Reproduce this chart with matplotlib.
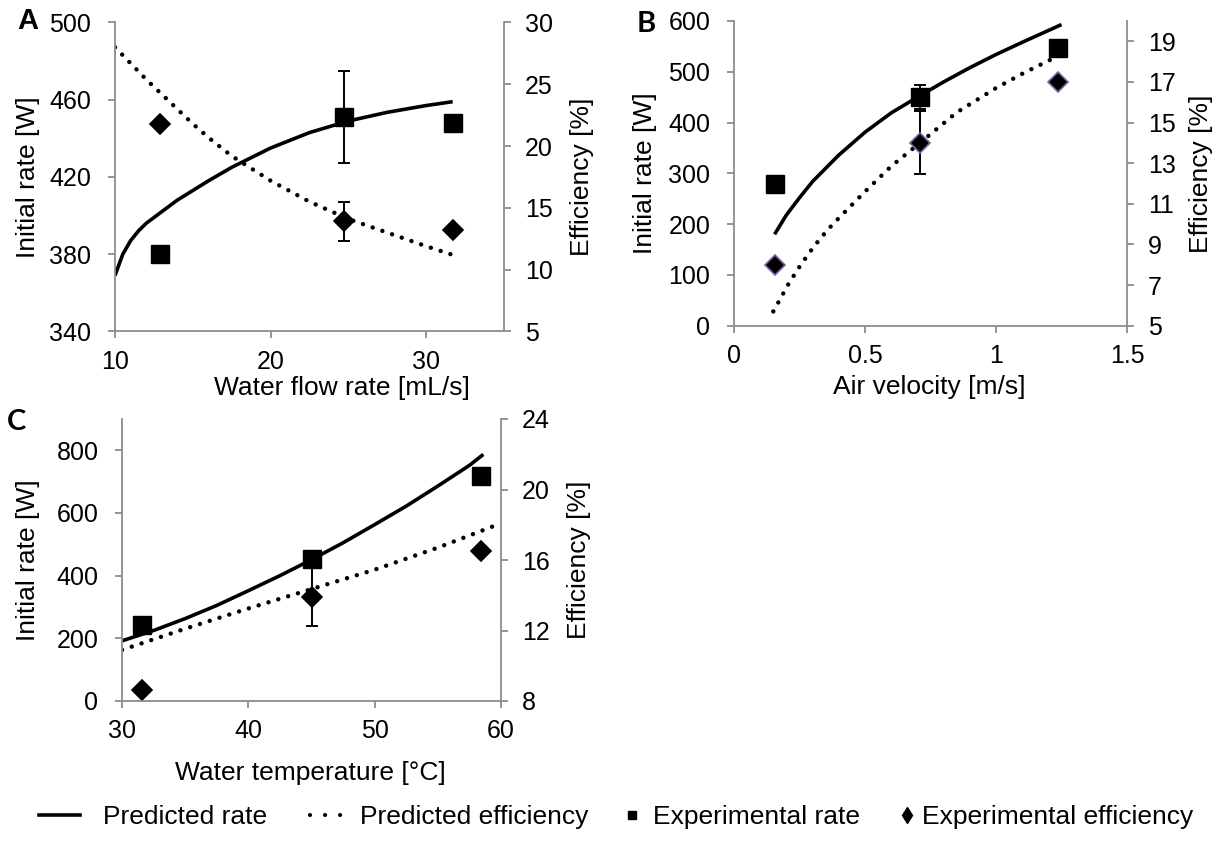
import matplotlib
matplotlib.use("Agg")
import matplotlib.pyplot as plt
from matplotlib.lines import Line2D

plt.rcParams['font.family'] = ['Liberation Sans', 'DejaVu Sans']

# ---- Panel A: water flow rate ----
a_curve_x = [10, 10.5, 11, 11.5, 12, 13, 14, 15, 16, 17.5, 20, 22.5, 25, 27.5, 30, 31.7]
a_rate_pred = [369, 380, 387, 392, 396, 402, 408, 413, 418, 425, 435, 443, 449, 453.5, 457, 459]
a_eff_x = [10, 11, 12, 13, 14, 15, 16, 17.5, 20, 22.5, 25, 27.5, 30, 31.7]
a_eff_pred = [28, 26.7, 25.4, 24.2, 23, 21.8, 20.7, 19.2, 17.2, 15.5, 14.1, 13.0, 11.9, 11.2]
a_exp_x = [12.9, 24.7, 31.7]
a_rate_exp = [380, 451, 448]
a_rate_err = [0, 24, 0]
a_eff_exp = [21.8, 13.9, 13.2]
a_eff_err = [0, 1.55, 0]

# ---- Panel B: air velocity ----
b_curve_x = [0.155, 0.2, 0.25, 0.3, 0.4, 0.5, 0.6, 0.7, 0.8, 0.9, 1.0, 1.1, 1.25]
b_rate_pred = [180, 218, 252, 284, 336, 381, 419, 450, 480, 508, 534, 558, 593]
b_eff_x = [0.15, 0.21, 0.255, 0.305, 0.356, 0.4, 0.5, 0.6, 0.71, 0.85, 1.0, 1.1, 1.24]
b_eff_pred = [5.7, 7.1, 8.0, 8.9, 9.7, 10.3, 11.6, 12.85, 14.0, 15.5, 16.7, 17.4, 18.3]
b_exp_x = [0.155, 0.71, 1.238]
b_rate_exp = [280, 450, 546]
b_rate_err = [0, 24, 0]
b_eff_exp = [8.0, 14.0, 17.0]
b_eff_err = [0, 1.55, 0]

# ---- Panel C: water temperature ----
c_curve_x = [30, 32.5, 35, 37.5, 40, 42.5, 45, 47.5, 50, 52.5, 55, 57.5, 58.6]
c_rate_pred = [192, 225, 263, 305, 352, 400, 451, 505, 563, 622, 686, 752, 787]
c_eff_x = [30, 35, 40, 45, 50, 55, 59.7]
c_eff_pred = [10.9, 12.1, 13.25, 14.35, 15.45, 16.7, 18.0]
c_exp_x = [31.6, 45, 58.4]
c_rate_exp = [242, 452, 717]
c_rate_err = [0, 24, 0]
c_eff_exp = [8.6, 13.9, 16.5]
c_eff_err = [0, 1.67, 0]

legend_labels = ['Predicted rate', 'Predicted efficiency', 'Experimental rate', 'Experimental efficiency']

GRAY = '#8c8c8c'
FS = 18      # tick labels
LFS = 19     # axis titles / legend
DOT = (0, (0.01, 2.3))


def style(ax, ax2):
    for a in (ax, ax2):
        a.spines['top'].set_visible(False)
        for s in ('left', 'right', 'bottom'):
            a.spines[s].set_color(GRAY)
            a.spines[s].set_linewidth(1.3)
        a.tick_params(colors=GRAY, labelcolor='black', labelsize=FS,
                      width=1.3, length=5, direction='out')
    ax.spines['right'].set_visible(False)
    ax2.spines['left'].set_visible(False)
    ax2.spines['bottom'].set_visible(False)
    ax.tick_params(axis='y', pad=12)
    ax.tick_params(axis='x', pad=8)
    ax2.tick_params(axis='y', pad=10)


def panel(rect, cx, rate, ex, eff, px, prate, perr, peff, peerr,
          xlim, xticks, ylim, yticks, y2lim, y2ticks, xlabel, edge):
    ax = fig.add_axes(rect)
    ax2 = ax.twinx()
    ax.set_zorder(ax2.get_zorder() + 1)
    ax.patch.set_visible(False)
    ax2.plot(ex, eff, color='black', lw=3.2, linestyle=DOT,
             dash_capstyle='round', zorder=2)
    ax2.errorbar(px, peff, yerr=peerr, fmt='none', ecolor='black',
                 elinewidth=1.4, capsize=4, capthick=1.4, zorder=3)
    ax2.plot(px, peff, linestyle='none', marker='D', markersize=10.5,
             markerfacecolor='black', markeredgecolor=edge,
             markeredgewidth=1.2, zorder=4)
    ax.plot(cx, rate, color='black', lw=2.6, solid_capstyle='butt', zorder=2)
    ax.errorbar(px, prate, yerr=perr, fmt='none', ecolor='black',
                elinewidth=1.4, capsize=4, capthick=1.4, zorder=3)
    ax.plot(px, prate, linestyle='none', marker='s', markersize=13,
            color='black', zorder=4)
    ax.set_xlim(*xlim)
    ax.set_xticks(xticks)
    ax.set_ylim(*ylim)
    ax.set_yticks(yticks)
    ax2.set_ylim(*y2lim)
    ax2.set_yticks(y2ticks)
    ax.set_xlabel(xlabel, fontsize=LFS)
    ax.set_ylabel('Initial rate [W]', fontsize=LFS)
    ax2.set_ylabel('Efficiency [%]', fontsize=LFS)
    style(ax, ax2)
    return ax, ax2


fig = plt.figure(figsize=(12.23, 8.42), dpi=100)
W, H = 1223, 842


def rect(l, r, t, b):
    return [l / W, 1 - b / H, (r - l) / W, (b - t) / H]


axA, axA2 = panel(rect(115, 504, 22.5, 331.5), a_curve_x, a_rate_pred, a_eff_x, a_eff_pred,
                  a_exp_x, a_rate_exp, a_rate_err, a_eff_exp, a_eff_err,
                  (10, 35), [10, 20, 30], (340, 500), range(340, 501, 40),
                  (5, 30), range(5, 31, 5), 'Water flow rate [mL/s]', 'black')
axB, axB2 = panel(rect(734, 1127, 21, 325.7), b_curve_x, b_rate_pred, b_eff_x, b_eff_pred,
                  b_exp_x, b_rate_exp, b_rate_err, b_eff_exp, b_eff_err,
                  (0, 1.5), [0, 0.5, 1, 1.5], (0, 600), range(0, 601, 100),
                  (5, 20), range(5, 20, 2), 'Air velocity [m/s]', '#7a62a0')
axC, axC2 = panel(rect(122, 501, 419, 701), c_curve_x, c_rate_pred, c_eff_x, c_eff_pred,
                  c_exp_x, c_rate_exp, c_rate_err, c_eff_exp, c_eff_err,
                  (30, 60), [30, 40, 50, 60], (0, 900), range(0, 801, 200),
                  (8, 24), range(8, 25, 4), 'Water temperature [°C]', 'black')
axB.set_xticklabels(['0', '0.5', '1', '1.5'])


def place_labels(ax, ax2, l, r, t, b, ylx, y2x, xlx, xly):
    w, h = r - l, b - t
    ax.yaxis.set_label_coords((ylx - l) / w, 0.5)
    ax2.yaxis.set_label_coords((y2x - l) / w, 0.5)
    ax.xaxis.set_label_coords((xlx - l) / w, (b - xly) / h)
    ax.yaxis.label.set_va('center')
    ax2.yaxis.label.set_va('center')
    ax.xaxis.label.set_va('center')


place_labels(axA, axA2, 115, 504, 22.5, 331.5, 28, 582, 342, 388)
place_labels(axB, axB2, 734, 1127, 21, 325.7, 645, 1201, 929, 387)
place_labels(axC, axC2, 122, 501, 419, 701, 28, 579, 310, 773)

fig.text(28 / W, 1 - 21 / H, 'A', fontsize=21, fontweight='bold', ha='center', va='center')
fig.text(646 / W, 1 - 24 / H, 'B', fontsize=21, fontweight='bold', ha='center', va='center',
         family=['Lato', 'DejaVu Sans'])
fig.text(17 / W, 1 - 422 / H, 'C', fontsize=21, fontweight='bold', ha='center', va='center',
         family=['Lato', 'DejaVu Sans'])

# legend: one entry per box so each sits where the reference puts it
handles = [
    Line2D([], [], color='black', lw=2.6),
    Line2D([], [], color='black', lw=3.0, linestyle=(0, (0.01, 3.6)), dash_capstyle='round'),
    Line2D([], [], color='black', linestyle='none', marker='s', markersize=6),
    Line2D([], [], color='black', linestyle='none', marker='d', markersize=8),
]
leg_x = [39, 310, 620, 896]
leg_hl = [1.56, 1.4, 0.9, 0.8]
leg_pad = [0.88, 0.5, 0.35, 0.2]
for h, lab, x0, hl, tp in zip(handles, legend_labels, leg_x, leg_hl, leg_pad):
    fig.legend([h], [lab], loc='center left', bbox_to_anchor=(x0 / W, 1 - 817 / H),
               frameon=False, fontsize=LFS, handlelength=hl, handletextpad=tp,
               borderpad=0, borderaxespad=0)

fig.savefig('out.png', dpi=100)
